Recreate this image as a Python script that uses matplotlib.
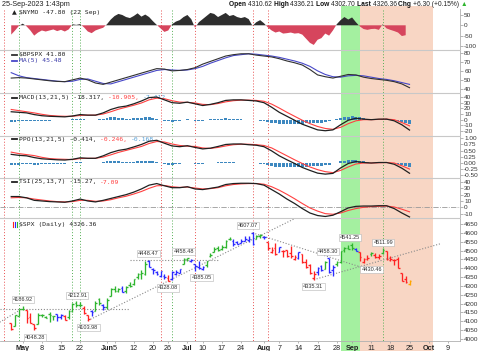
import numpy as np
import pandas as pd
import matplotlib
matplotlib.use('Agg')
import matplotlib.pyplot as plt
from matplotlib.lines import Line2D
from matplotlib.patches import Rectangle

W, H = 480, 351
AXR = 460

holidays = ['2023-05-29', '2023-06-19', '2023-07-04', '2023-09-04']
calendar = [d.strftime('%Y-%m-%d') for d in
            pd.bdate_range('2023-04-17', '2023-10-31', freq='C', holidays=holidays)]
pos = {d: i for i, d in enumerate(calendar)}
bar_dates = [d for d in calendar if '2023-04-26' <= d <= '2023-09-25']
nymo_dates = bar_dates[:-1]
line_dates = bar_dates[::2]

# ---------------- price data (SPX daily) ----------------
opens = [4087.8, 4075.3, 4129.6,
         4166.8, 4164.1, 4122.3, 4082.6, 4084.7,
         4137.0, 4124.3, 4143.7, 4132.2, 4138.5,
         4126.7, 4128.0, 4122.9, 4157.7, 4204.2,
         4190.8, 4176.8, 4133.0, 4155.7, 4156.2,
         4226.7, 4190.7,
         4183.0, 4241.0,
         4283.0, 4271.6, 4285.5, 4268.7, 4304.9,
         4308.3, 4352.6, 4366.3, 4365.3, 4441.0,
         4396.1, 4380.0, 4355.4, 4354.2,
         4344.8, 4337.4, 4367.5, 4374.9, 4422.4,
         4450.5, 4442.0, 4422.6, 4404.5,
         4394.2, 4415.6, 4467.7, 4491.5, 4514.6,
         4508.9, 4521.8, 4563.9, 4554.4, 4550.2,
         4543.4, 4555.2, 4559.0, 4598.3, 4565.8,
         4584.8,
         4578.8, 4550.9, 4494.3, 4514.0,
         4491.6, 4498.0, 4501.6, 4487.2, 4450.7,
         4458.1, 4478.9, 4433.8, 4416.3, 4344.9,
         4380.3, 4415.3, 4396.4, 4455.2, 4389.4,
         4426.0, 4432.8, 4500.3, 4517.0,
         4530.6,
         4510.1, 4490.4, 4434.6, 4451.3,
         4481.0, 4473.3, 4462.7, 4487.8, 4498.0,
         4445.1, 4445.4, 4452.8, 4374.4, 4341.7,
         4310.62]
highs = [4089.7, 4138.2, 4170.1,
         4186.92, 4164.1, 4148.3, 4082.6, 4147.0,
         4142.3, 4130.4, 4154.3, 4132.8, 4143.7,
         4141.3, 4135.5, 4164.7, 4202.2, 4212.91,
         4209.2, 4185.7, 4133.0, 4165.7, 4212.9,
         4231.1, 4195.4,
         4232.4, 4290.7,
         4299.3, 4288.3, 4299.2, 4298.0, 4322.6,
         4340.1, 4375.4, 4391.8, 4439.2, 4448.47,
         4400.2, 4386.2, 4382.3, 4366.6,
         4362.1, 4384.4, 4390.4, 4398.4, 4458.48,
         4456.5, 4454.1, 4422.6, 4440.4,
         4412.6, 4443.6, 4488.3, 4517.4, 4527.8,
         4532.9, 4562.3, 4578.4, 4564.7, 4555.0,
         4563.4, 4580.6, 4582.5, 4607.07, 4590.2,
         4594.2,
         4584.6, 4550.9, 4519.5, 4540.3,
         4519.8, 4503.3, 4502.4, 4527.4, 4476.2,
         4490.3, 4478.9, 4450.0, 4421.2, 4381.8,
         4407.6, 4418.6, 4443.2, 4458.30, 4418.5,
         4439.6, 4500.1, 4521.7, 4532.3,
         4541.25,
         4514.3, 4490.4, 4457.8, 4473.5,
         4490.8, 4487.1, 4479.4, 4511.99, 4498.0,
         4466.4, 4449.9, 4461.0, 4375.7, 4357.4,
         4336.21]
lows = [4049.4, 4075.3, 4127.2,
        4164.1, 4089.7, 4088.9, 4048.28, 4084.7,
        4123.8, 4116.7, 4098.9, 4109.3, 4099.1,
        4110.3, 4109.9, 4113.6, 4153.5, 4180.2,
        4179.7, 4142.5, 4103.98, 4129.7, 4156.2,
        4192.2, 4166.2,
        4171.6, 4241.0,
        4266.8, 4263.1, 4264.0, 4261.1, 4291.7,
        4304.4, 4337.7, 4337.9, 4362.6, 4407.4,
        4367.2, 4360.1, 4351.8, 4341.3,
        4328.08, 4335.0, 4360.2, 4372.0, 4422.4,
        4442.3, 4436.6, 4385.05, 4397.4,
        4389.9, 4408.5, 4463.2, 4489.4, 4499.6,
        4504.9, 4514.6, 4557.5, 4527.6, 4535.8,
        4541.3, 4552.4, 4547.6, 4528.6, 4564.0,
        4573.1,
        4567.5, 4505.8, 4485.5, 4474.6,
        4491.2, 4464.4, 4461.3, 4457.9, 4444.0,
        4453.4, 4432.2, 4403.6, 4364.8, 4335.31,
        4360.3, 4382.8, 4396.4, 4375.6, 4356.3,
        4415.0, 4431.7, 4493.6, 4507.4,
        4501.4,
        4496.0, 4442.4, 4430.46, 4448.4,
        4467.9, 4456.8, 4453.5, 4478.7, 4447.2,
        4442.1, 4416.6, 4401.4, 4329.2, 4316.5,
        4302.70]
closes = [4056.0, 4135.4, 4169.5,
          4167.9, 4119.6, 4090.8, 4061.2, 4136.3,
          4138.1, 4119.2, 4137.6, 4130.6, 4124.1,
          4136.3, 4109.9, 4158.8, 4198.1, 4192.0,
          4192.6, 4145.6, 4115.2, 4151.3, 4205.5,
          4205.5, 4179.8,
          4221.0, 4282.4,
          4273.8, 4283.9, 4267.5, 4293.9, 4298.9,
          4338.9, 4369.0, 4372.6, 4425.8, 4409.6,
          4388.7, 4365.7, 4381.9, 4348.3,
          4328.8, 4378.4, 4376.9, 4396.4, 4450.4,
          4455.6, 4446.8, 4411.6, 4399.0,
          4409.5, 4439.3, 4472.2, 4510.0, 4505.4,
          4522.8, 4555.0, 4565.7, 4534.9, 4536.3,
          4554.6, 4567.5, 4566.8, 4537.4, 4582.2,
          4589.0,
          4576.7, 4513.4, 4501.9, 4478.0,
          4518.4, 4499.4, 4467.7, 4468.8, 4464.1,
          4489.7, 4437.9, 4404.3, 4370.4, 4369.7,
          4399.8, 4387.6, 4436.0, 4376.3, 4405.7,
          4433.3, 4497.6, 4514.9, 4507.7,
          4515.8,
          4496.8, 4465.5, 4451.1, 4457.5,
          4487.5, 4461.9, 4467.4, 4505.1, 4450.3,
          4453.5, 4444.0, 4402.2, 4330.0, 4320.06,
          4326.36]
bar_colors = ("rgg" "grrrg" "ggggb" "brggg" "grrbg" "gb" "gg" "ggbgg" "ggggb"
              "bbbb" "rbbbg" "gbbb" "bgggg" "gggbb" "bbbbg" "g" "brrr" "brrrr"
              "brrrr" "bbgbb" "gggg" "g" "brrr" "grrgr" "rrrrr" "y")

# ---------------- indicators ----------------
nymo = [-45, -25, -3,
        8, -5, -25, -50, -35,
        -25, -30, -25, -20, -28,
        -22, -30, -20, 5, 2,
        6, -10, -30, -38, -25,
        -18, -12,
        5, 28,
        45, 55, 50, 40, 35,
        45, 58, 42, 52, 40,
        20, 2, -15, -32,
        -25, 5, 18, 25, 40,
        50, 30, -12, 15,
        30, 45, 60, 55, 40,
        50, 60, 45, 50, 40,
        35, 40, 30, -3, 15,
        25,
        10, -10, -25, -35,
        -30, -40, -38, -35, -40,
        -38, -45, -65, -85, -95,
        -70, -62, -40, -50, -25,
        5, 25, 40, 28,
        38,
        15, -5, -18, -22,
        -18, -17, -22, 5, -15,
        -22, -28, -35, -52, -47.80]

bpspx = [52.5, 53, 52.5, 51.5, 50.5, 49.5, 48.8, 48.5, 50.5, 52.5,
         50.5, 47, 45.5, 48, 50.5, 53, 55.5, 58, 60.5, 63,
         62.5, 60.5, 61, 62, 64, 68, 71, 74, 77, 78.5,
         79.5, 79.5, 78, 77, 76, 74, 71.5, 69.5, 67, 62,
         56, 54, 52.5, 54.5, 56.5, 56, 53.5, 52, 51, 50,
         48.5, 46, 41.80]
bpspx_ma5 = [58.5, 55, 53, 52, 51, 50, 49, 48.5, 49, 51,
             51.5, 49, 46.5, 46, 48.5, 51, 53.5, 56, 58.5, 61,
             62, 61.5, 61, 61.5, 63, 65.5, 69, 72, 75, 77.5,
             78.5, 79.5, 79, 78, 77, 75.5, 73.5, 71.5, 69, 65.5,
             60.5, 56.5, 54, 53.5, 55, 55.5, 55, 53.5, 52, 51,
             49.5, 47.5, 45.48]

macd = [14, 13, 12, 9, 7, 6, 5.5, 5, 6.5, 9,
        8, 8, 12, 18, 22, 24, 28, 33, 39, 40,
        35, 30, 29, 31, 28, 25, 27, 30, 34, 35,
        35, 34, 33, 30, 22, 13, 6, -1, -8, -13,
        -18, -19.5, -18, -9, -1, 2.5, 1, 0, 1, 1,
        -2, -9, -18.317]
macd_signal = [18, 16, 14, 12, 9.5, 7.5, 6.5, 6, 6, 7.5,
               8, 8, 10, 14, 18.5, 22, 25.5, 29.5, 35, 38,
               37, 33.5, 31, 30.5, 29.5, 27, 26.5, 28.5, 31.5, 33.5,
               34.5, 34.5, 34, 32.5, 27.5, 20.5, 13, 6, -1, -7,
               -12, -15.5, -17, -13.5, -7, -2, 0, 0, 0.5, 1,
               0, -5, -10.905]
macd_hist = [-4, -3.5, -3,
             -2.5, -2, -2.5, -3, -2.8,
             -2.5, -2, -1.5, -1.2, -1,
             -1, -1, -0.5, 0.5, 1,
             1.5, 0.8, 0, -0.3, 0,
             0.5, 2,
             3, 4,
             4, 3.5, 2.5, 2, 2,
             2.5, 3, 3.5, 4, 4,
             3, 2, 0, -2,
             -3, -3.5, -2.5, -2, -0.5,
             0.5, 0, -1.5, -2,
             -2, -1, 0.5, 1, 1.5,
             2, 2.5, 2, 1.5, 1,
             0.5, 0, -0.5, -1, -1,
             -1.5,
             -2.5, -4.5, -5.5, -6.5,
             -8, -8, -7.5, -7.5, -7.5,
             -7.5, -7.5, -6.5, -6, -6,
             -6, -5, -4, -3, -1,
             1, 3.5, 4.5, 5.5,
             6,
             5, 4.5, 3, 1.5,
             1, 0.5, 0, 0.5, 0.5,
             0, -1, -2, -3.5, -5,
             -7.412]

ppo = [0.35, 0.31, 0.29, 0.22, 0.17, 0.15, 0.13, 0.12, 0.15, 0.21,
       0.19, 0.19, 0.29, 0.42, 0.51, 0.56, 0.65, 0.75, 0.88, 0.92,
       0.80, 0.69, 0.66, 0.70, 0.63, 0.57, 0.60, 0.67, 0.75, 0.77,
       0.77, 0.74, 0.72, 0.66, 0.49, 0.29, 0.13, -0.02, -0.18, -0.30,
       -0.41, -0.45, -0.42, -0.20, -0.02, 0.06, 0.02, 0.00, 0.02, 0.02,
       -0.05, -0.21, -0.414]
ppo_signal = [0.44, 0.38, 0.34, 0.30, 0.23, 0.18, 0.16, 0.15, 0.14, 0.18,
              0.19, 0.19, 0.24, 0.33, 0.43, 0.51, 0.59, 0.67, 0.79, 0.87,
              0.85, 0.77, 0.71, 0.68, 0.67, 0.61, 0.59, 0.63, 0.69, 0.74,
              0.76, 0.76, 0.74, 0.71, 0.61, 0.45, 0.29, 0.13, -0.02, -0.16,
              -0.27, -0.35, -0.39, -0.30, -0.16, -0.04, 0.00, 0.00, 0.01, 0.02,
              0.00, -0.11, -0.246]
ppo_hist = [-0.09, -0.08, -0.07,
            -0.06, -0.05, -0.06, -0.07, -0.065,
            -0.06, -0.05, -0.035, -0.03, -0.025,
            -0.025, -0.025, -0.01, 0.01, 0.025,
            0.035, 0.02, 0.0, -0.01, 0.0,
            0.01, 0.05,
            0.07, 0.09,
            0.09, 0.08, 0.06, 0.05, 0.05,
            0.06, 0.07, 0.08, 0.09, 0.09,
            0.07, 0.045, 0.0, -0.045,
            -0.07, -0.08, -0.06, -0.045, -0.01,
            0.01, 0.0, -0.035, -0.045,
            -0.045, -0.02, 0.01, 0.02, 0.035,
            0.045, 0.055, 0.045, 0.035, 0.02,
            0.01, 0.0, -0.01, -0.02, -0.02,
            -0.035,
            -0.055, -0.10, -0.12, -0.145,
            -0.18, -0.18, -0.17, -0.17, -0.17,
            -0.17, -0.17, -0.15, -0.14, -0.14,
            -0.135, -0.115, -0.09, -0.07, -0.02,
            0.02, 0.08, 0.10, 0.12,
            0.13,
            0.11, 0.10, 0.07, 0.035,
            0.02, 0.01, 0.0, 0.01, 0.01,
            0.0, -0.02, -0.045, -0.08, -0.115,
            -0.168]

tsi = [17, 17, 15, 11, 10, 9, 8.5, 8, 10, 13,
       10, 8.5, 11, 14, 17, 20, 24, 29, 35, 37.5,
       34, 31, 31, 32.5, 29, 28, 30, 32, 36, 37.5,
       38, 38, 37.5, 35, 28, 21, 13, 6, -2, -9,
       -13, -14.5, -12.5, -7, -1, 1.5, 2, 2, 2.5, 2.5,
       -2, -9, -15.27]
tsi_signal = [15, 15.5, 15, 13, 11.5, 10, 9, 8.5, 9, 11,
              11, 9.5, 10, 12, 15, 17.5, 21, 25, 30, 34,
              34.5, 32.5, 31.5, 32, 30.5, 29, 29.5, 31, 34, 36,
              37, 37.5, 37.5, 36.5, 32.5, 27, 20.5, 13.5, 6, -1,
              -6, -10, -11, -9, -5, -2, 0, 1, 1.5, 2,
              0.5, -3, -7.09]

# ---------------- axis / markup data ----------------
tick_dates = ['2023-05-01', '2023-05-08', '2023-05-15', '2023-05-22', '2023-06-01',
              '2023-06-05', '2023-06-12', '2023-06-20', '2023-06-26', '2023-07-03',
              '2023-07-10', '2023-07-17', '2023-07-24', '2023-08-01', '2023-08-07',
              '2023-08-14', '2023-08-21', '2023-08-28', '2023-09-01', '2023-09-11',
              '2023-09-18', '2023-09-25', '2023-10-02', '2023-10-09']
tick_labels = ['May', '8', '15', '22', 'Jun', '5', '12', '20', '26', 'Jul', '10', '17',
               '24', 'Aug', '7', '14', '21', '28', 'Sep', '11', '18', '25', 'Oct', '9']
month_labels = {'May', 'Jun', 'Jul', 'Aug', 'Sep', 'Oct'}

red_lines = ['2023-04-24', '2023-06-22', '2023-07-06', '2023-07-27', '2023-08-02']
green_lines = ['2023-04-28', '2023-05-18', '2023-05-22', '2023-06-27', '2023-09-14']
green_zone = ('2023-08-29', '2023-09-06')
salmon_zone = ('2023-09-06', '2023-10-03')

trendlines = [(('2023-04-21', 4170.0), ('2023-06-09', 4170.0)),
              (('2023-06-09', 4448.47), ('2023-07-14', 4448.47)),
              (('2023-05-24', 4103.98), ('2023-08-15', 4701.5)),
              (('2023-04-21', 4095.0), ('2023-04-28', 4160.0)),
              (('2023-07-27', 4600.0), ('2023-09-08', 4395.0)),
              (('2023-08-18', 4335.31), ('2023-10-05', 4538.0))]

annots = [('2023-05-01', 'above', 0), ('2023-05-04', 'below', 1),
          ('2023-05-19', 'above', 1), ('2023-05-24', 'below', 0.5),
          ('2023-06-16', 'above', -1), ('2023-06-26', 'below', 0),
          ('2023-06-30', 'above', 0), ('2023-07-06', 'below', 6.5),
          ('2023-07-27', 'above', -4.5), ('2023-08-18', 'below', -0.5),
          ('2023-08-24', 'above', -1), ('2023-09-01', 'above', -2),
          ('2023-09-07', 'below', 8), ('2023-09-14', 'above', 0.5)]

# ---------------- figure ----------------
fig = plt.figure(figsize=(W / 100, H / 100), dpi=100)
fig.patch.set_facecolor('white')

x_may1 = pos['2023-05-01']
XL = (x_may1 - 5.93, x_may1 + 114.18)

MONO = 'DejaVu Sans Mono'
SANS = 'Liberation Sans'

bg = fig.add_axes([0, 0, AXR / W, 1])
bg.set_xlim(XL)
bg.set_ylim(H, 0)
bg.axis('off')

for (a, b), col in [(green_zone, '#a4f0a0'), (salmon_zone, '#f8d6c4')]:
    bg.add_patch(Rectangle((pos[a], 6), pos[b] - pos[a], H - 6, color=col, lw=0, zorder=0))
for d in red_lines:
    bg.plot([pos[d], pos[d]], [10, 341], color='#e85050', lw=0.7, ls=(0, (1, 2)), zorder=1)
for d in green_lines:
    bg.plot([pos[d], pos[d]], [10, 341], color='#55b055', lw=0.7, ls=(0, (1, 2)), zorder=1)


def panel(top, bottom, ylim, ticks, fmt='{:g}', topline=True):
    ax = fig.add_axes([0, 1 - bottom / H, AXR / W, (bottom - top) / H])
    ax.set_facecolor('none')
    ax.set_xlim(XL)
    ax.set_ylim(ylim)
    ax.spines['left'].set_visible(False)
    ax.spines['bottom'].set_visible(False)
    ax.spines['top'].set_visible(topline)
    ax.spines['top'].set_color('#c8c8c8')
    ax.spines['top'].set_linewidth(0.8)
    ax.spines['right'].set_color('#b0b0b0')
    ax.spines['right'].set_linewidth(0.6)
    ax.yaxis.tick_right()
    ax.set_yticks(ticks)
    ax.set_yticklabels([fmt.format(t) for t in ticks])
    ax.tick_params(axis='y', direction='out', length=2, width=0.5, colors='#999999',
                   labelcolor='#333333', labelsize=4.6, pad=1)
    for lab in ax.get_yticklabels():
        lab.set_family(SANS)
    ax.set_xticks([])
    return ax


xl = [pos[d] for d in line_dates]
xn = [pos[d] for d in nymo_dates]
xb = np.array([pos[d] for d in bar_dates])

# NYMO
ax1 = panel(9, 50, (-119.5, 78.9), [50, 0, -50, -100], topline=False)
nv = np.array(nymo)
ax1.fill_between(xn, nv, 0, where=nv >= 0, interpolate=True, color='#2e2e2e', lw=0)
ax1.fill_between(xn, nv, 0, where=nv <= 0, interpolate=True, color='#d6455d', lw=0)

# BPSPX
ax2 = panel(50, 93, (35.9, 83.7), [80, 70, 60, 50, 40])
ax2.plot(xl, bpspx_ma5, color='#4848c8', lw=0.8)
ax2.plot(xl, bpspx, color='#303030', lw=0.8)

# MACD
ax3 = panel(93, 136, (-28.8, 47.1), [40, 30, 20, 10, 0, -10, -20])
ax3.bar(xb, macd_hist, width=0.75, color='#3d88c0', lw=0)
ax3.plot(xl, macd_signal, color='#ff4040', lw=0.8)
ax3.plot(xl, macd, color='#202020', lw=0.9)

# PPO
ax4 = panel(136, 178, (-0.607, 1.093), [1.0, 0.75, 0.5, 0.25, 0.0, -0.25, -0.5], fmt='{:.2f}')
ax4.bar(xb, ppo_hist, width=0.75, color='#3d88c0', lw=0)
ax4.plot(xl, ppo_signal, color='#ff4040', lw=0.8)
ax4.plot(xl, ppo, color='#202020', lw=0.9)

# TSI
ax5 = panel(178, 218, (-16.9, 46.3), [40, 30, 20, 10, 0, -10])
ax5.axhline(0, color='#999999', lw=0.6, ls='-.')
ax5.plot(xl, tsi_signal, color='#ff4040', lw=0.8)
ax5.plot(xl, tsi, color='#202020', lw=0.9)

# SPX
ax6 = panel(218, 341, (3988.7, 4683.9), list(range(4650, 3999, -50)))
ax6.spines['bottom'].set_visible(True)
ax6.spines['bottom'].set_color('#b0b0b0')
ax6.spines['bottom'].set_linewidth(0.6)
ax6.set_xticks([pos[d] for d in tick_dates])
ax6.set_xticklabels(tick_labels)
ax6.tick_params(axis='x', direction='out', length=1.5, width=0.5, colors='#999999',
                labelcolor='#222222', labelsize=5.2, pad=1.5)
for lab in ax6.get_xticklabels():
    lab.set_family(SANS)
    if lab.get_text() in month_labels:
        lab.set_fontweight('bold')

for (d1, p1), (d2, p2) in trendlines:
    ax6.plot([pos[d1], pos[d2]], [p1, p2], color='#8a8a8a', lw=0.8, ls=(0, (1, 1.6)))

cmap = {'g': '#2fb52f', 'b': '#2b2bff', 'r': '#ff2222', 'y': '#ffa500'}
cols = [cmap[c] for c in bar_colors]
ax6.vlines(xb, lows, highs, colors=cols, lw=0.95)
ax6.hlines(opens, xb - 0.45, xb, colors=cols, lw=0.95)
ax6.hlines(closes, xb, xb + 0.45, colors=cols, lw=0.95)

for d, where, dx in annots:
    k = bar_dates.index(d)
    price = highs[k] if where == 'above' else lows[k]
    dy = 4.4 if where == 'above' else -5.0
    ax6.annotate(f'{price:.2f}', xy=(pos[d], price), xytext=(dx * 0.72, dy),
                 textcoords='offset points', ha='center', va='center', fontsize=4,
                 family=SANS, color='#333333', zorder=6,
                 bbox=dict(boxstyle='square,pad=0.2', fc='white', ec='#b5b5b5', lw=0.4))


# ---------------- text labels ----------------
def fx(x):
    return x / W


def fy(y):
    return 1 - y / H


def chain(x, y, parts, family, size):
    t = None
    for s, c, wgt in parts:
        if t is None:
            t = fig.text(fx(x), fy(y), s, color=c, fontweight=wgt, family=family,
                         fontsize=size, ha='left', va='center')
        else:
            t = bg.annotate(s, xy=(1, 0), xycoords=t, ha='left', va='bottom', color=c,
                            fontweight=wgt, family=family, fontsize=size,
                            annotation_clip=False)
    return t


fig.text(fx(2), fy(4.5), '25-Sep-2023 1:43pm', family=SANS, fontsize=5.2, va='center',
         color='#222222')
chg = closes[-1] - closes[-2]
pct = chg / closes[-2] * 100
chain(229, 4.5, [('Open ', '#111111', 'bold'), (f'{opens[-1]:.2f} ', '#222222', 'normal'),
                 ('High ', '#111111', 'bold'), (f'{highs[-1]:.2f} ', '#222222', 'normal'),
                 ('Low ', '#111111', 'bold'), (f'{lows[-1]:.2f} ', '#222222', 'normal'),
                 ('Last ', '#111111', 'bold'), (f'{closes[-1]:.2f} ', '#222222', 'normal'),
                 ('Chg ', '#111111', 'bold'), (f'{chg:+.2f} ({pct:+.2f}%) ', '#222222', 'normal'),
                 ('\u25b2', '#2fb52f', 'normal')], SANS, 4.8)

LS = 4.6
fig.text(fx(11.5), fy(12.5), '\u25b2', fontsize=4.5, family='DejaVu Sans', va='center',
         color='#222222')
fig.text(fx(19), fy(12.5), f'$NYMO {nymo[-1]:.2f} (22 Sep)', family=MONO, fontsize=LS,
         va='center', color='#222222')


def legline(y, color):
    fig.add_artist(Line2D([fx(12), fx(17)], [fy(y), fy(y)], color=color, lw=1.3))


legline(54.5, '#303030')
fig.text(fx(19), fy(54.5), f'$BPSPX {bpspx[-1]:.2f}', family=MONO, fontsize=LS,
         va='center', color='#222222')
legline(60.5, '#4848c8')
fig.text(fx(19), fy(60.5), f'MA(5) {bpspx_ma5[-1]:.2f}', family=MONO, fontsize=LS,
         va='center', color='#3838a8')

legline(97.5, '#202020')
chain(19, 97.5, [(f'MACD(13,21,5) {macd[-1]:.3f}, ', '#222222', 'normal'),
                 (f'{macd_signal[-1]:.3f}, ', '#ff4040', 'normal'),
                 (f'{macd_hist[-1]:.3f}', '#55a0d8', 'normal')], MONO, LS)

legline(139.5, '#202020')
chain(19, 139.5, [(f'PPO(13,21,5) {ppo[-1]:.3f}, ', '#222222', 'normal'),
                  (f'{ppo_signal[-1]:.3f}, ', '#ff4040', 'normal'),
                  (f'{ppo_hist[-1]:.3f}', '#55a0d8', 'normal')], MONO, LS)

legline(182, '#202020')
chain(19, 182, [(f'TSI(25,13,7) {tsi[-1]:.2f}, ', '#222222', 'normal'),
                (f'{tsi_signal[-1]:.2f}', '#ff4040', 'normal')], MONO, LS)

for dxp, c in [(12.5, '#ff2222'), (14.5, '#2b2bff'), (16.5, '#2fb52f')]:
    fig.add_artist(Line2D([fx(dxp), fx(dxp)], [fy(222), fy(227)], color=c, lw=0.8))
fig.text(fx(19), fy(224.5), f'$SPX (Daily) {closes[-1]:.2f}', family=MONO, fontsize=LS,
         va='center', color='#222222')

fig.savefig('out.png', dpi=100, facecolor='white')
